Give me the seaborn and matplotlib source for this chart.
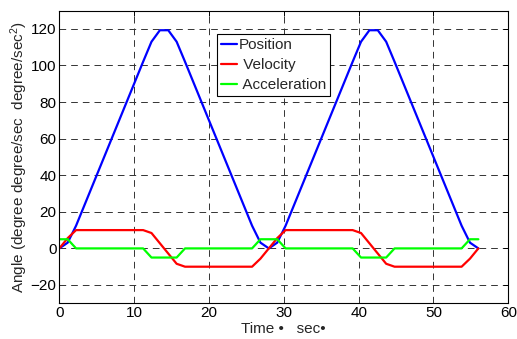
import matplotlib
matplotlib.use("Agg")
import matplotlib.pyplot as plt
import seaborn as sns
import pandas as pd

# Time samples (sec)
time = [0.00, 1.12, 2.24, 3.36, 4.48, 5.60, 6.72, 7.84, 8.96, 10.08,
        11.20, 12.32, 13.44, 14.56, 15.68, 16.80, 17.92, 19.04, 20.16, 21.28,
        22.40, 23.52, 24.64, 25.76, 26.88, 28.00, 29.12, 30.24, 31.36, 32.48,
        33.60, 34.72, 35.84, 36.96, 38.08, 39.20, 40.32, 41.44, 42.56, 43.68,
        44.80, 45.92, 47.04, 48.16, 49.28, 50.40, 51.52, 52.64, 53.76, 54.88,
        56.00]

position = [0.0, 3.136, 12.4, 23.6, 34.8, 46.0, 57.2, 68.4, 79.6, 90.8,
            102.0, 112.944, 119.216, 119.216, 112.944, 102.0, 90.8, 79.6, 68.4, 57.2,
            46.0, 34.8, 23.6, 12.4, 3.136, 0.0, 3.136, 12.4, 23.6, 34.8,
            46.0, 57.2, 68.4, 79.6, 90.8, 102.0, 112.944, 119.216, 119.216, 112.944,
            102.0, 90.8, 79.6, 68.4, 57.2, 46.0, 34.8, 23.6, 12.4, 3.136,
            0.0]

velocity = [0.0, 5.6, 10, 10, 10, 10, 10, 10, 10, 10,
            10, 8.4, 2.8, -2.8, -8.4, -10, -10, -10, -10, -10,
            -10, -10, -10, -10, -5.6, 0.0, 5.6, 10, 10, 10,
            10, 10, 10, 10, 10, 10, 8.4, 2.8, -2.8, -8.4,
            -10, -10, -10, -10, -10, -10, -10, -10, -10, -5.6,
            0.0]

acceleration = [5, 5, 0, 0, 0, 0, 0, 0, 0, 0,
                0, -5, -5, -5, -5, 0, 0, 0, 0, 0,
                0, 0, 0, 0, 5, 5, 5, 0, 0, 0,
                0, 0, 0, 0, 0, 0, -5, -5, -5, -5,
                0, 0, 0, 0, 0, 0, 0, 0, 0, 5,
                5]

series_labels = ["Position", " Velocity", " Acceleration"]
series_colors = ["#0000ff", "#ff0000", "#00ff00"]
x_ticks = [0, 10, 20, 30, 40, 50, 60]
y_ticks = [-20, 0, 20, 40, 60, 80, 100, 120]

sns.set_style("white")
plt.rcParams["font.family"] = ["Liberation Sans", "DejaVu Sans"]
plt.rcParams["mathtext.fontset"] = "custom"
plt.rcParams["mathtext.rm"] = "Liberation Sans"
plt.rcParams["mathtext.it"] = "Liberation Sans:italic"
plt.rcParams["lines.scale_dashes"] = False

FS = 11

df = pd.DataFrame({
    "time": time * 3,
    "value": position + velocity + acceleration,
    "series": [series_labels[0]] * len(time) + [series_labels[1]] * len(time)
              + [series_labels[2]] * len(time),
})

fig = plt.figure(figsize=(5.17, 3.39), dpi=100)
ax = fig.add_axes([59.3 / 517, 1 - 303.3 / 339, (508.3 - 59.3) / 517, (303.3 - 10.5) / 339])

sns.lineplot(data=df, x="time", y="value", hue="series",
             palette=dict(zip(series_labels, series_colors)),
             hue_order=series_labels, linewidth=1.6, ax=ax,
             estimator=None, sort=False)

ax.set_xlim(0, 60)
ax.set_ylim(-30, 130)
ax.set_xticks(x_ticks)
ax.set_yticks(y_ticks)
ax.grid(True, color="#333333", linestyle=(0, (4.8, 3.6)), linewidth=0.7)
ax.set_axisbelow(True)

for s in ax.spines.values():
    s.set_visible(True)
    s.set_color("black")
    s.set_linewidth(0.8)

ax.tick_params(axis="both", which="both", direction="in", length=3.6, width=0.7,
               top=True, right=True, labelsize=FS, colors="black", pad=2.0)

ax.set_xlabel("Time \u2022   sec\u2022", fontsize=FS, labelpad=1.5)
ax.set_ylabel("Angle (degree degree/sec  degree/sec$^2$)", fontsize=FS, labelpad=0.5)

leg = ax.legend(loc="upper left", bbox_to_anchor=((217 - 59.3) / 449, (303.3 - 34.3) / 292.8),
                borderaxespad=0, frameon=True, fancybox=False, shadow=False,
                fontsize=FS, handlelength=1.05, handletextpad=0.1,
                borderpad=0.26, labelspacing=0.38)
leg.get_frame().set_edgecolor("black")
leg.get_frame().set_linewidth(0.8)
leg.get_frame().set_facecolor("white")
leg.get_frame().set_alpha(1.0)
for line in leg.get_lines():
    line.set_linewidth(1.6)

fig.savefig("out.png", dpi=100)
